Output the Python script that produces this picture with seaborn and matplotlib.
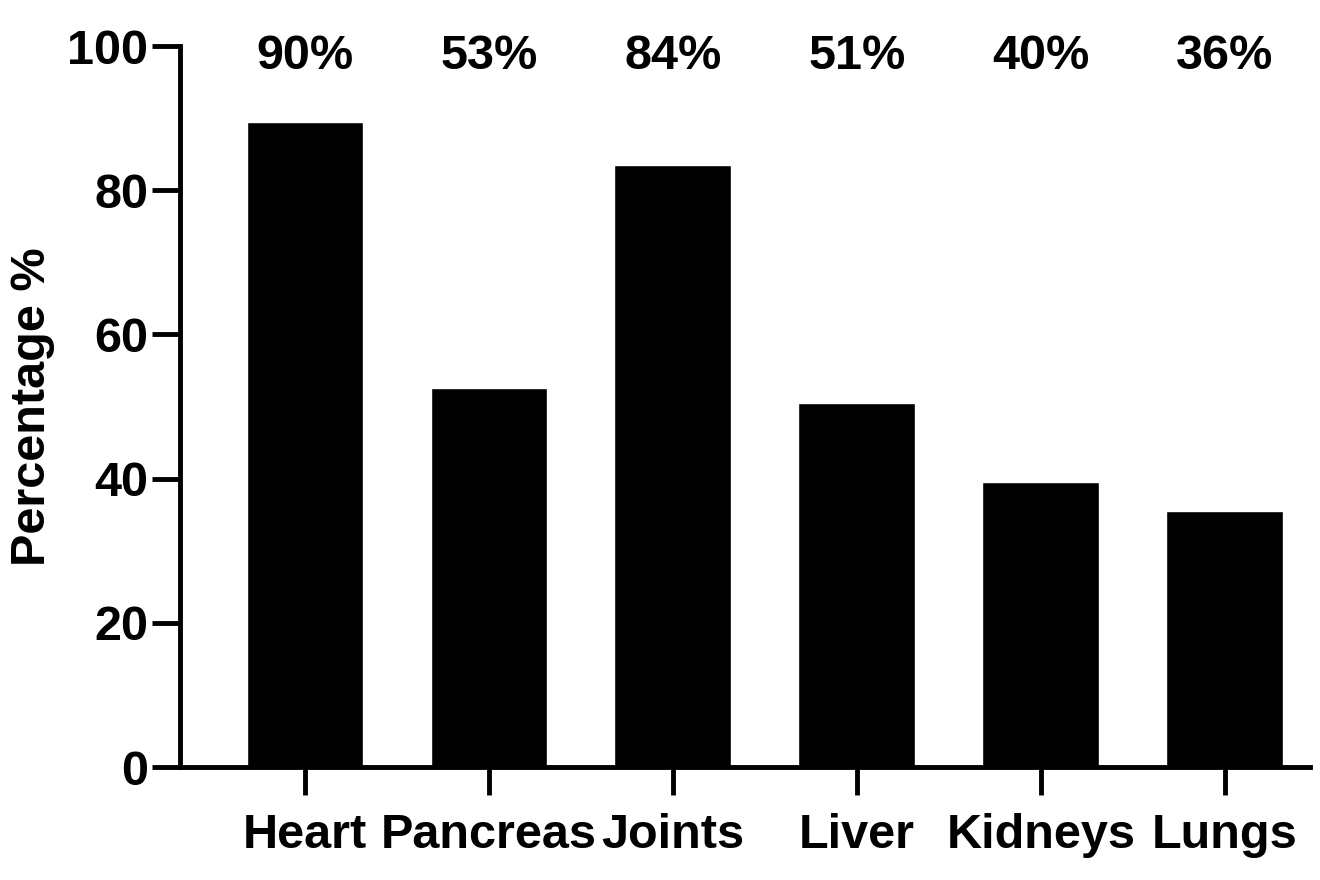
import numpy as np
import pandas as pd
import seaborn as sns
import matplotlib.pyplot as plt

sns.set_style("ticks")
plt.rcParams['font.family'] = ['Liberation Sans', 'DejaVu Sans']
plt.rcParams['font.weight'] = 'bold'
plt.rcParams['text.color'] = 'black'
plt.rcParams['axes.labelcolor'] = 'black'

# data
organs = ['Heart', 'Pancreas', 'Joints', 'Liver', 'Kidneys', 'Lungs']
percent = [89.5, 52.6, 83.5, 50.5, 39.5, 35.5]
pct_labels = ['90%', '53%', '84%', '51%', '40%', '36%']
yticks = [0, 20, 40, 60, 80, 100]

df = pd.DataFrame({'organ': organs, 'pct': percent})

fig, ax = plt.subplots(figsize=(13.2, 8.8), dpi=100)
sns.barplot(data=df, x='organ', y='pct', color='black', saturation=1,
            width=0.635, ax=ax)

# percentages written along the top
for i, lab in enumerate(pct_labels):
    ax.text(i, 98.6, lab, ha='center', va='center', fontsize=35,
            fontweight='bold', color='black', clip_on=False)

ax.set_ylim(0, 100)
ax.set_xlim(-0.679, 5.463)
ax.set_yticks(yticks)
ax.set_ylabel('Percentage %', fontsize=35, fontweight='bold', labelpad=9)
ax.set_xlabel('')
ax.tick_params(axis='both', length=20, width=3.5, labelsize=35,
               direction='out', color='black', labelcolor='black')
ax.tick_params(axis='y', pad=3)
ax.tick_params(axis='x', pad=13)
for s in ['left', 'bottom']:
    ax.spines[s].set_linewidth(3.5)
    ax.spines[s].set_color('black')
sns.despine(ax=ax)

fig.subplots_adjust(left=0.1364, right=0.9924, bottom=0.1284, top=0.9477)
fig.savefig('out.png', dpi=100)
